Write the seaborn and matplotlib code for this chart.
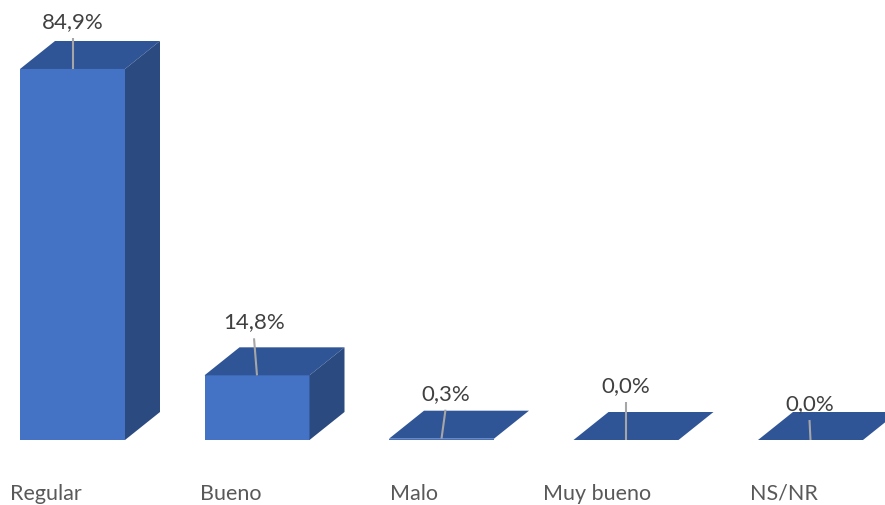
import matplotlib
matplotlib.use("Agg")
import matplotlib.pyplot as plt
import seaborn as sns
import pandas as pd
from matplotlib.patches import Polygon

categories = ["Regular", "Bueno", "Malo", "Muy bueno", "NS/NR"]
values = [84.9, 14.8, 0.3, 0.0, 0.0]
labels = ["84,9%", "14,8%", "0,3%", "0,0%", "0,0%"]

# layout constants (pixels)
W, H, DPI = 885, 506, 100
PX_PER_CAT = 184.5
CAT0_PX = 72.5
BASE_PX = 441
PX_PER_PCT = 4.37
BAR_W_PX = 105
DEPTH_X, DEPTH_Y = 35, 28
label_dx = [0, -3, 4, 0, -1]
label_dy = [-48, -54, -46, -55, -37]

FRONT = "#4472C4"
TOP = "#2F5597"
SIDE = "#2A4A80"

sns.set_theme(style="white")
plt.rcParams["font.family"] = ["Lato", "DejaVu Sans"]

fig = plt.figure(figsize=(W / DPI, H / DPI), dpi=DPI)
ax = fig.add_axes([0, 0, 1, 1])

df = pd.DataFrame({"cat": categories, "val": values})
bw = BAR_W_PX / PX_PER_CAT
sns.barplot(data=df, x="cat", y="val", color=FRONT, saturation=1,
            width=bw, ax=ax, zorder=2, linewidth=0)

ax.set_xlim(-CAT0_PX / PX_PER_CAT, (W - CAT0_PX) / PX_PER_CAT)
ax.set_ylim(-(H - BASE_PX) / PX_PER_PCT, BASE_PX / PX_PER_PCT)
ax.axis("off")

dx = DEPTH_X / PX_PER_CAT
dy = DEPTH_Y / PX_PER_PCT
for i, v in enumerate(values):
    x0, x1 = i - bw / 2, i + bw / 2
    top = Polygon([(x0, v), (x1, v), (x1 + dx, v + dy), (x0 + dx, v + dy)],
                  closed=True, facecolor=TOP, edgecolor="none", zorder=3)
    ax.add_patch(top)
    if v > 0.5:
        side = Polygon([(x1, 0), (x1 + dx, dy), (x1 + dx, v + dy), (x1, v)],
                       closed=True, facecolor=SIDE, edgecolor="none", zorder=3)
        ax.add_patch(side)
    lx = i + label_dx[i] / PX_PER_CAT
    ly = v - label_dy[i] / PX_PER_PCT
    ax.text(lx, ly, labels[i], ha="center", va="center", fontsize=16,
            color="#404040", zorder=5)
    ax.plot([lx, i], [ly - 17 / PX_PER_PCT, v], color="#A6A6A6", lw=1.5,
            zorder=4, solid_capstyle="butt")

cat_left_px = [10, 200, 390, 543, 750]
for i, c in enumerate(categories):
    ax.text((cat_left_px[i] - CAT0_PX) / PX_PER_CAT, -(494 - BASE_PX) / PX_PER_PCT,
            c, ha="left", va="center", fontsize=15.5, color="#595959")

fig.savefig("out.png", dpi=DPI)
